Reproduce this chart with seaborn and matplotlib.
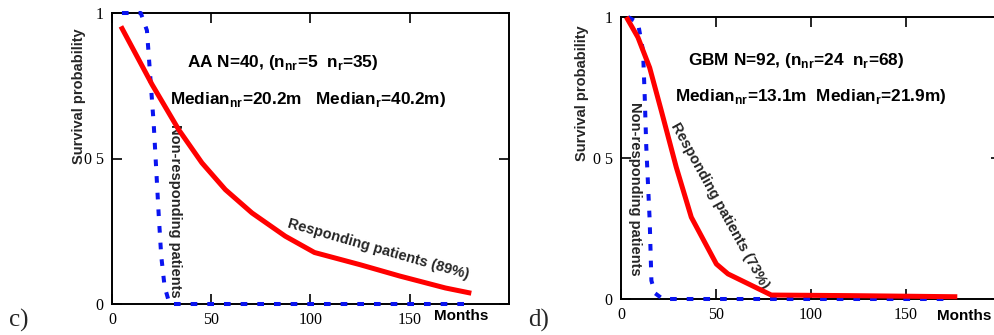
import numpy as np
import pandas as pd
import matplotlib
matplotlib.use("Agg")
import matplotlib.pyplot as plt
import seaborn as sns

# ---- Data ----
aa_resp_months = [4.5, 20.2, 33.6, 45.3, 57.1, 70.5, 87.3, 102, 125, 145, 168, 181]
aa_resp_surv = [0.954, 0.754, 0.599, 0.485, 0.393, 0.313, 0.233, 0.177, 0.135, 0.096, 0.055, 0.037]
aa_nonresp_months = [5, 14.5, 17.6, 19.3, 21, 22.3, 23.5, 24.8, 26.5, 29, 180]
aa_nonresp_surv = [1.0, 1.0, 0.94, 0.78, 0.62, 0.46, 0.31, 0.165, 0.06, 0.0, 0.0]

gbm_resp_months = [2.8, 8.9, 15.1, 21.2, 29.1, 37, 50.2, 56.3, 79.1, 120, 177]
gbm_resp_surv = [1.0, 0.928, 0.82, 0.668, 0.467, 0.29, 0.124, 0.089, 0.014, 0.012, 0.008]
gbm_nonresp_months = [3.7, 8.9, 11.6, 12.5, 13.3, 15.1, 16, 18, 22, 174]
gbm_nonresp_surv = [1.0, 0.98, 0.88, 0.715, 0.54, 0.278, 0.065, 0.02, 0.0, 0.0]

x_ticks = [0, 50, 100, 150]
x_ticklabels = ["0", "50", "100", "150"]
y_ticks = [0, 0.5, 1]
y_ticklabels = ["0", "0 5", "1"]

sns.set_style("ticks")
plt.rcParams["font.family"] = ["Liberation Sans", "DejaVu Sans"]
plt.rcParams["mathtext.fontset"] = "custom"
plt.rcParams["mathtext.rm"] = "Liberation Sans:bold"
plt.rcParams["mathtext.bf"] = "Liberation Sans:bold"
plt.rcParams["lines.scale_dashes"] = False

W, H = 995, 335
fig = plt.figure(figsize=(W / 100, H / 100), dpi=100)

def px_axes(left, right, top, bottom):
    return fig.add_axes([left / W, (H - bottom) / H, (right - left) / W, (bottom - top) / H])

ax1 = px_axes(112, 509, 13, 304)
ax2 = px_axes(621, 1001, 17, 299)

RED = "#ff0000"
BLUE = "#0a14f0"
serif = "Liberation Serif"

def draw(ax, rm, rs, nm, ns):
    sns.lineplot(x=rm, y=rs, ax=ax, color=RED, linewidth=3.6, solid_capstyle="butt",
                 estimator=None, sort=False, zorder=4)
    sns.lineplot(x=nm, y=ns, ax=ax, color=BLUE, linewidth=2.9,
                 linestyle=(0, (4.8, 7.2)), dash_capstyle="butt",
                 estimator=None, sort=False, zorder=3)
    for ln in ax.get_lines():
        ln.set_clip_on(False)
    ax.set_xlim(0, 200)
    ax.set_ylim(0, 1)
    ax.set_xticks(x_ticks)
    ax.set_xticklabels(x_ticklabels, fontfamily=serif, fontsize=11.5)
    ax.set_yticks(y_ticks)
    ax.set_yticklabels(y_ticklabels, fontfamily=serif, fontsize=11.5)
    ax.tick_params(direction="in", length=7, width=1.2, top=True, right=True,
                   pad=6, colors="black")
    for s in ax.spines.values():
        s.set_linewidth(1.4)
        s.set_color("black")
    ax.set_xlabel("")
    ax.set_ylabel("")

draw(ax1, aa_resp_months, aa_resp_surv, aa_nonresp_months, aa_nonresp_surv)
draw(ax2, gbm_resp_months, gbm_resp_surv, gbm_nonresp_months, gbm_nonresp_surv)

bold = dict(fontweight="bold", fontsize=12.4, color="black")
lab = dict(fontweight="bold", fontsize=11, color="black")

# Left panel texts
fig.text(79 / W, 1 - 96 / H, "Survival probability", rotation=90, ha="center", va="center",
         fontweight="bold", fontsize=10.5)
fig.text(461 / W, 1 - 316 / H, "Months", ha="center", va="center", **lab)
fig.text(19 / W, 1 - 320 / H, "c)", ha="center", va="center", fontfamily=serif, fontsize=18)
fig.text(283 / W, 1 - 62 / H, r"AA N=40, (n$_{\mathrm{nr}}$=5  n$_{\mathrm{r}}$=35)",
         ha="center", va="center", **bold)
fig.text(308 / W, 1 - 99 / H, r"Median$_{\mathrm{nr}}$=20.2m   Median$_{\mathrm{r}}$=40.2m)",
         ha="center", va="center", **bold)
ax1.text(31.7, 0.32, "Non-responding patients", rotation=-90, ha="center", va="center",
         fontweight="bold", fontsize=10.5)
ax1.text(134, 0.19, "Responding patients (89%)", rotation=-16, ha="center", va="center",
         fontweight="bold", fontsize=10.5, rotation_mode="anchor")

# Right panel texts
fig.text(582 / W, 1 - 93 / H, "Survival probability", rotation=90, ha="center", va="center",
         fontweight="bold", fontsize=10.5)
fig.text(964 / W, 1 - 316 / H, "Months", ha="center", va="center", **lab)
fig.text(539 / W, 1 - 320 / H, "d)", ha="center", va="center", fontfamily=serif, fontsize=18)
fig.text(796 / W, 1 - 61 / H, r"GBM N=92, (n$_{\mathrm{nr}}$=24  n$_{\mathrm{r}}$=68)",
         ha="center", va="center", **bold)
fig.text(811 / W, 1 - 97 / H, r"Median$_{\mathrm{nr}}$=13.1m  Median$_{\mathrm{r}}$=21.9m)",
         ha="center", va="center", **bold)
ax2.text(7.4, 0.39, "Non-responding patients", rotation=-90, ha="center", va="center",
         fontweight="bold", fontsize=10.5)
ax2.text(52, 0.33, "Responding patients (73%)", rotation=-61, ha="center", va="center",
         fontweight="bold", fontsize=10.5, rotation_mode="anchor")

fig.savefig("out.png", dpi=100)
